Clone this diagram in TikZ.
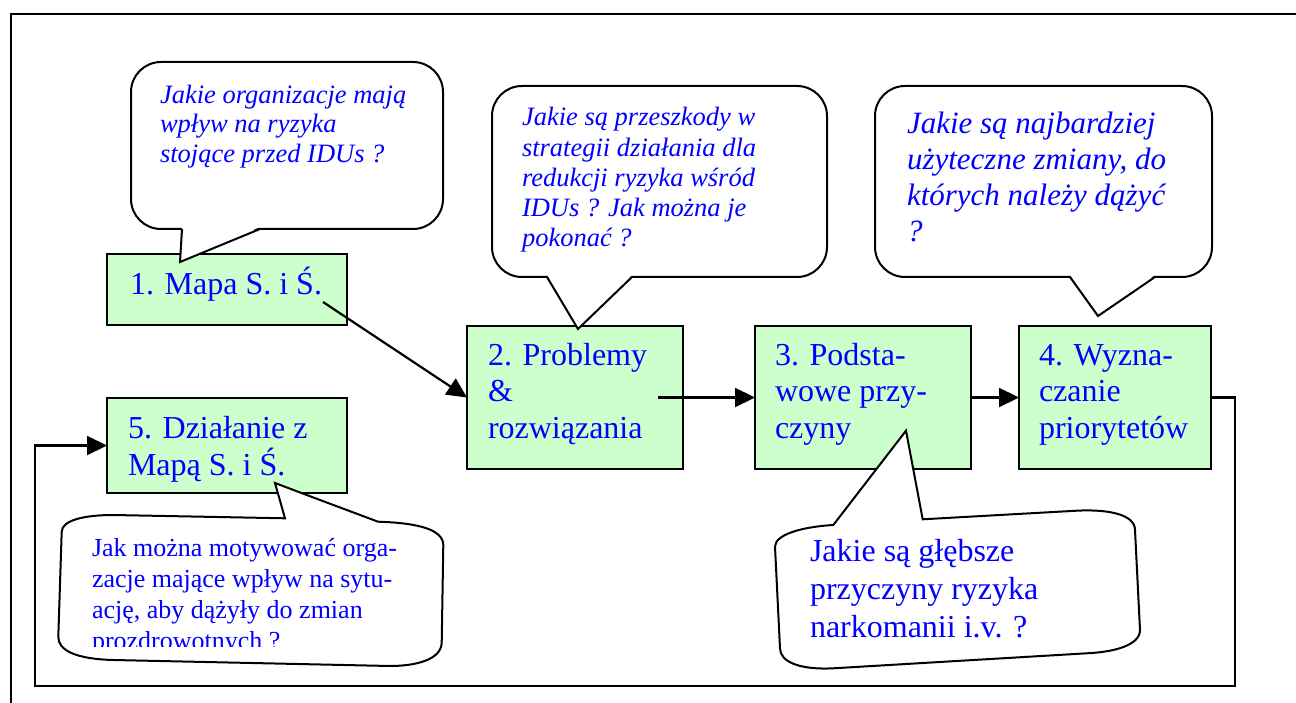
\documentclass[tikz,border=0pt]{standalone}
\usepackage{fontspec}
\setmainfont{Liberation Serif}
\usetikzlibrary{arrows.meta}
\definecolor{boxgreen}{HTML}{CCFFCC}
\definecolor{txtblue}{HTML}{0000FF}
% a text block whose reference point is the baseline of its first line
\newcommand{\qblock}[3]{\parbox[t]{420pt}{\fontsize{#1}{#2}\selectfont #3}}
\begin{document}
\begin{tikzpicture}[x=1pt,y=-1pt,
  stepbox/.style={draw=black, line width=2.8pt, fill=boxgreen, inner sep=0pt, outer sep=0pt},
  lbl/.style={anchor=base west, inner sep=0pt, outer sep=0pt, text=txtblue},
  bubble/.style={draw=black, line width=2pt, fill=white, line join=miter},
  tailside/.style={draw=black, line width=2pt, line join=miter},
  arr/.style={draw=black, line width=2.2pt, -{Triangle[length=20pt,width=19pt]}},
  wire/.style={draw=black, line width=2.2pt}]
\useasboundingbox (0,0) rectangle (1296,703);

% page frame (top and left edges)
\draw[line width=2.8pt] (11,710) -- (11,14) -- (1300,14);

% process boxes
\node[stepbox, minimum width=240pt, minimum height=71pt] (b1) at (227,289.5) {};
\node[stepbox, minimum width=240pt, minimum height=95pt] (b5) at (227,445.5) {};
\node[stepbox, minimum width=216pt, minimum height=143pt] (b2) at (575,397.5) {};
\node[stepbox, minimum width=216pt, minimum height=143pt] (b3) at (863,397.5) {};
\node[stepbox, minimum width=192pt, minimum height=143pt] (b4) at (1115,397.5) {};

% box labels
\node[lbl] (t1) at (130,295) {\qblock{32}{36.7}{1. Mapa S. i Ś.}};
\node[lbl] (t5) at (128,438.3) {\qblock{32}{36.7}{5. Działanie z\\Mapą S. i Ś.}};
\node[lbl] (t2) at (488,365) {\qblock{32}{36.7}{2. Problemy\\\&\\rozwiązania}};
\node[lbl] (t3) at (775,365) {\qblock{32}{36.7}{3. Podsta-\\wowe przy-\\czyny}};
\node[lbl] (t4) at (1039,365) {\qblock{32}{36.7}{4. Wyzna-\\czanie\\priorytetów}};

% connectors
\coordinate (s1) at (323,302);
\coordinate (s2) at (658,397.5);
\coordinate (loopR) at (1235,686);
\coordinate (loopL) at (35,686);
\draw[arr] (s1) -- (b2.west);
\draw[arr] (s2) -- (b3.west);
\draw[arr] (b3.east) -- (b4.west);
\draw[arr] (b4.east) -| (loopR) -- (loopL) |- (b5.west);

% speech bubble above box 1
\draw[bubble, rounded corners=30pt] (131,62) rectangle (443,229);
\fill[white] (182,227) -- (180,262) -- (260,227) -- cycle;
\draw[tailside] (182,229) -- (180,262) -- (260,229);
\node[lbl] (q1) at (160,103.3) {\qblock{26.5}{29.5}{\itshape Jakie organizacje mają\\wpływ na ryzyka\\stojące przed IDUs ?}};

% speech bubble above box 2
\draw[bubble, rounded corners=30pt] (492,86) rectangle (827,277);
\fill[white] (547,275) -- (578,329) -- (632,275) -- cycle;
\draw[tailside] (547,277) -- (578,329) -- (632,277);
\node[lbl] (q2) at (522,126) {\qblock{26.5}{30.2}{\itshape Jakie są przeszkody w\\strategii działania dla\\redukcji ryzyka wśród\\IDUs ? Jak można je\\pokonać ?}};

% speech bubble above box 4
\draw[bubble, rounded corners=30pt] (875,86) rectangle (1212,277);
\fill[white] (1070,275) -- (1098,316) -- (1155,275) -- cycle;
\draw[tailside] (1070,277) -- (1098,316) -- (1155,277);
\node[lbl] (q4) at (907,133.3) {\qblock{31}{36}{\itshape Jakie są najbardziej\\użyteczne zmiany, do\\których należy dążyć\\?}};

% speech bubble below box 5
\draw[bubble] (275,483) -- (306.7,495) -- (378,521.7)
  .. controls (420,523) and (443,530) .. (443.3,545)
  -- (441.7,643)
  .. controls (441,660) and (415,666) .. (390,666)
  -- (113.3,660)
  .. controls (75,659) and (58,650) .. (58.3,636.7)
  -- (61.7,531.7)
  .. controls (62,520) and (85,515) .. (113.3,515)
  -- (285,518.3) -- cycle;
\begin{scope}
  \clip (50,500) rectangle (450,646);
  \node[lbl] (q5) at (92,556.7) {\qblock{26}{30.8}{Jak można motywować orga-\\zacje mające wpływ na sytu-\\ację, aby dążyły do zmian\\prozdrowotnych ?}};
\end{scope}

% speech bubble below box 3
\draw[bubble] (906,430.7) -- (922.7,519.3) -- (1076.7,510.7)
  .. controls (1110,509) and (1135,515) .. (1135,530)
  -- (1140,630)
  .. controls (1140,645) and (1115,652) .. (1086.7,653.3)
  -- (833.3,668.3)
  .. controls (800,670) and (780,662) .. (780,648.3)
  -- (775,546.7)
  .. controls (775,535) and (800,527) .. (833.3,525)
  -- cycle;
\node[lbl] (q3) at (810,561) {\qblock{32}{38}{Jakie są głębsze\\przyczyny ryzyka\\narkomanii i.v. ?}};
\end{tikzpicture}
\end{document}
